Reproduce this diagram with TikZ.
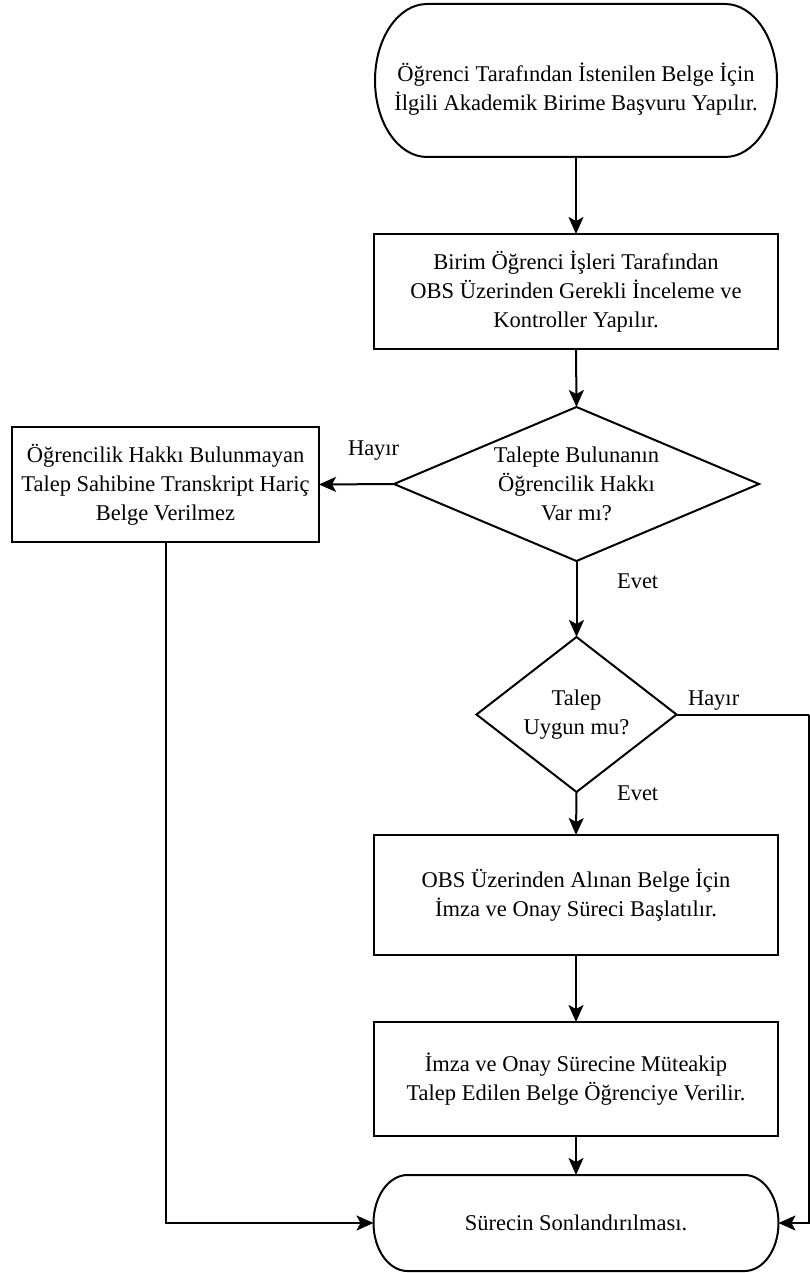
\documentclass[tikz,border=0pt]{standalone}
\usepackage{fontspec}
\setmainfont{Liberation Serif}
\usetikzlibrary{arrows.meta}
\begin{document}
\begin{tikzpicture}[x=1pt,y=-1pt,
  every node/.style={font=\fontsize{22.5}{29}\selectfont, inner sep=0pt, outer sep=0pt, align=center},
  outline/.style={line width=2pt, black},
  boxnode/.style={draw, line width=2pt, minimum width=404pt},
  flat/.style={draw=none},
  conn/.style={line width=2pt, -{Stealth[length=17pt,width=15pt,inset=4pt]}},
  plainconn/.style={line width=2pt},
  lbl/.style={anchor=base west}
]
\useasboundingbox (0,0) rectangle (810,1273);

% nodes
\node[flat, minimum width=402pt, minimum height=153pt] (t1) at (576,80.5) {};
\node (t1txt) at (576,89) {Öğrenci Tarafından İstenilen Belge İçin\\İlgili Akademik Birime Başvuru Yapılır.};
\node[boxnode, minimum height=115pt] (b1) at (576,291.5) {Birim Öğrenci İşleri Tarafından\\OBS Üzerinden Gerekli İnceleme ve\\Kontroller Yapılır.};
\node[flat, minimum width=365pt, minimum height=154pt] (d1) at (576.5,484) {Talepte Bulunanın\\Öğrencilik Hakkı\\Var mı?};
\node[draw, line width=2pt, minimum width=307pt, minimum height=115pt] (lb) at (165.5,484.5) {Öğrencilik Hakkı Bulunmayan\\Talep Sahibine Transkript Hariç\\Belge Verilmez};
\node[flat, minimum width=200pt, minimum height=155pt] (d2) at (576.5,714.5) {Talep\\Uygun mu?};
\node[boxnode, minimum height=120pt] (b3) at (576,895) {OBS Üzerinden Alınan Belge İçin\\İmza ve Onay Süreci Başlatılır.};
\node[boxnode, minimum height=114pt] (b4) at (576,1079) {İmza ve Onay Sürecine Müteakip\\Talep Edilen Belge Öğrenciye Verilir.};
\node[flat, minimum width=405pt, minimum height=96pt] (t2) at (576,1223) {Sürecin Sonlandırılması.};

% outlines of terminals and decisions
\draw[outline] ([xshift=52pt]t1.north west) -- ([xshift=-52pt]t1.north east)
  arc[start angle=90,end angle=-90,x radius=52pt,y radius=76.5pt]
  -- ([xshift=52pt]t1.south west)
  arc[start angle=270,end angle=90,x radius=52pt,y radius=76.5pt] -- cycle;
\draw[outline] ([xshift=34pt]t2.north west) -- ([xshift=-34pt]t2.north east)
  arc[start angle=90,end angle=-90,x radius=34pt,y radius=48pt]
  -- ([xshift=34pt]t2.south west)
  arc[start angle=270,end angle=90,x radius=34pt,y radius=48pt] -- cycle;
\draw[outline, line join=miter] (d1.north) -- (d1.east) -- (d1.south) -- (d1.west) -- cycle;
\draw[outline, line join=miter] (d2.north) -- (d2.east) -- (d2.south) -- (d2.west) -- cycle;

% labels
\node[lbl] (h1) at (348,455) {Hayır};
\node[lbl] (e1) at (617,588) {Evet};
\node[lbl] (h2) at (688,705) {Hayır};
\node[lbl] (e2) at (617,800) {Evet};

\coordinate (rc) at (808.5,714.5);

% connectors
\draw[conn] (t1.south) -- (b1.north);
\draw[conn] (b1.south) -- (d1.north);
\draw[conn] (d1.west) -- (lb.east);
\draw[conn] (d1.south) -- (d2.north);
\draw[conn] (d2.south) -- (b3.north);
\draw[conn] (b3.south) -- (b4.north);
\draw[conn] (b4.south) -- (t2.north);
\draw[conn] (lb.south) |- (t2.west);
\draw[plainconn] (d2.east) -- (rc);
\draw[conn] (rc) |- (t2.east);
\end{tikzpicture}
\end{document}
